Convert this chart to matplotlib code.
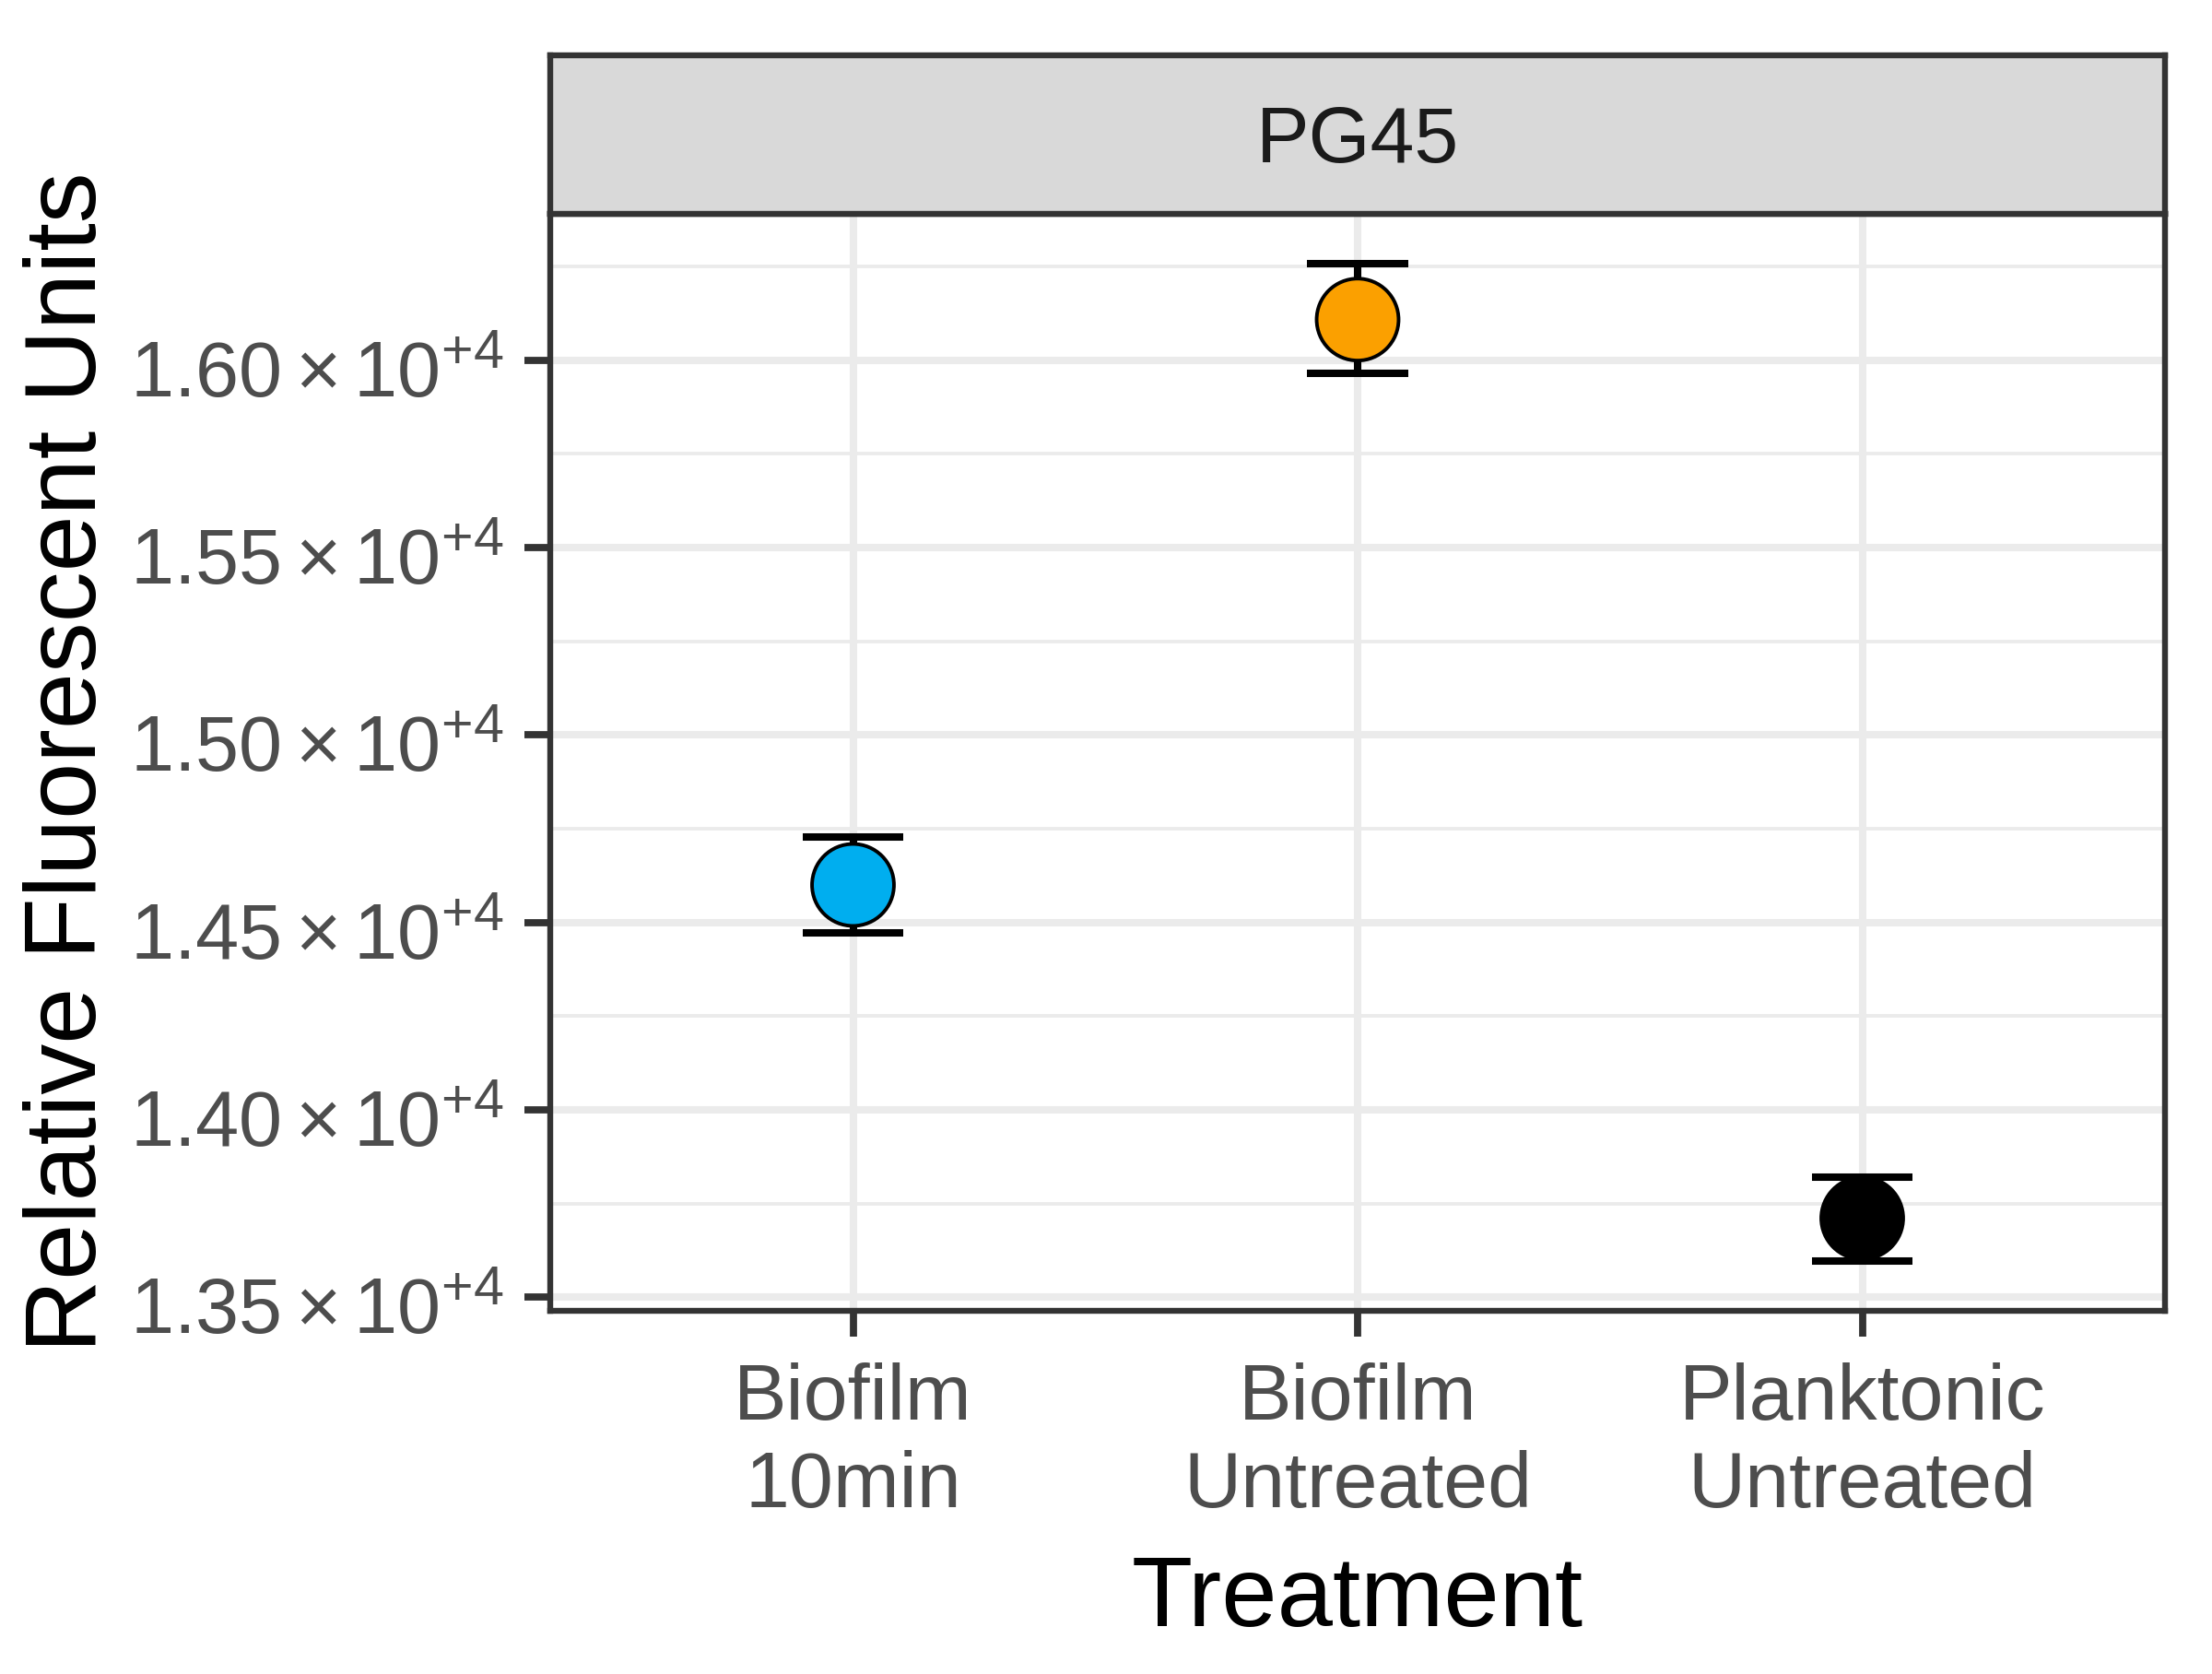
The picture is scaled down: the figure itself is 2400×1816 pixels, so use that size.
import numpy as np
import matplotlib
matplotlib.use('Agg')
import matplotlib.pyplot as plt
import matplotlib.transforms as mtransforms
from matplotlib.ticker import FixedLocator, FixedFormatter

plt.rcParams['font.family'] = ['Liberation Sans', 'DejaVu Sans']
plt.rcParams['mathtext.fontset'] = 'custom'
plt.rcParams['mathtext.rm'] = 'Liberation Sans'
plt.rcParams['mathtext.it'] = 'Liberation Sans:italic'
plt.rcParams['mathtext.bf'] = 'Liberation Sans:bold'

# donnees
treatments = ['Biofilm\n10min', 'Biofilm\nUntreated', 'Planktonic\nUntreated']
rfu_mean = [14600, 16108, 13711]
rfu_upper = [14728, 16257, 13820]
rfu_lower = [14471, 15964, 13597]
point_colors = ['#00AEEF', '#FBA000', '#000000']
panel_label = 'PG45'
y_breaks = [13500, 14000, 14500, 15000, 15500, 16000]
y_minor = [13750, 14250, 14750, 15250, 15750, 16250]

border_col = '#333333'
grid_col = '#EBEBEB'

x = np.arange(1, len(treatments) + 1)
mean = np.array(rfu_mean)
up = np.array(rfu_upper)
lo = np.array(rfu_lower)

W, H = 2400, 1816
fig = plt.figure(figsize=(12, 9.08), dpi=200)
left, right = 597/W, 2349/W
bottom, top = 1 - 1422/H, 1 - 232/H
ax = fig.add_axes([left, bottom, right - left, top - bottom])
strip = fig.add_axes([left, top, right - left, (232 - 60)/H])

# grille
for yy in y_minor:
    ax.axhline(yy, color=grid_col, lw=1.4, zorder=0)
for yy in y_breaks:
    ax.axhline(yy, color=grid_col, lw=2.9, zorder=0)
for xx in x:
    ax.axvline(xx, color=grid_col, lw=2.9, zorder=0)

# barres d'erreur
ax.vlines(x, lo, up, color='black', lw=2.9, zorder=2, capstyle='butt')
ax.hlines(up, x - 0.1, x + 0.1, color='black', lw=2.9, zorder=2, capstyle='butt')
ax.hlines(lo, x - 0.1, x + 0.1, color='black', lw=2.9, zorder=2, capstyle='butt')

ax.scatter(x, mean, s=32**2, c=point_colors, edgecolors='black', linewidths=1.4, zorder=3)

span = up.max() - lo.min()
ax.set_ylim(lo.min() - 0.05*span, up.max() + 0.05*span)
ax.set_xlim(0.4, len(treatments) + 0.6)

ax.yaxis.set_major_locator(FixedLocator(y_breaks))
ylabs = [r'$%.2f\times10^{+4}$' % (v/1e4) for v in y_breaks]
ax.yaxis.set_major_formatter(FixedFormatter(ylabs))
ax.set_xticks(x)
ax.set_xticklabels(treatments, linespacing=1.25)

for s in ax.spines.values():
    s.set_color(border_col)
    s.set_linewidth(2.3)
ax.tick_params(axis='both', length=10, width=2.8, color=border_col,
               labelcolor='#4D4D4D', labelsize=30.5)
ax.tick_params(axis='y', pad=8)
ax.tick_params(axis='x', pad=10, labelsize=31)

# descendre un peu les etiquettes y (exposant en haut)
decal = mtransforms.ScaledTranslation(0, -6.5/72, fig.dpi_scale_trans)
for t in ax.get_yticklabels():
    t.set_va('center')
    t.set_transform(t.get_transform() + decal)

ax.set_xlabel('Treatment', fontsize=39, color='black', labelpad=12)
ax.set_ylabel('Relative Fluorescent Units', fontsize=39.5, color='black', labelpad=5)

# bandeau du facet
strip.set_facecolor('#D9D9D9')
strip.set_xticks([])
strip.set_yticks([])
for s in strip.spines.values():
    s.set_color(border_col)
    s.set_linewidth(2.3)
fig.text((left + right)/2, 1 - 176/H, panel_label, ha='center', va='baseline',
         fontsize=31, color='#1A1A1A')

fig.savefig('out.png', dpi=200, facecolor='white')
